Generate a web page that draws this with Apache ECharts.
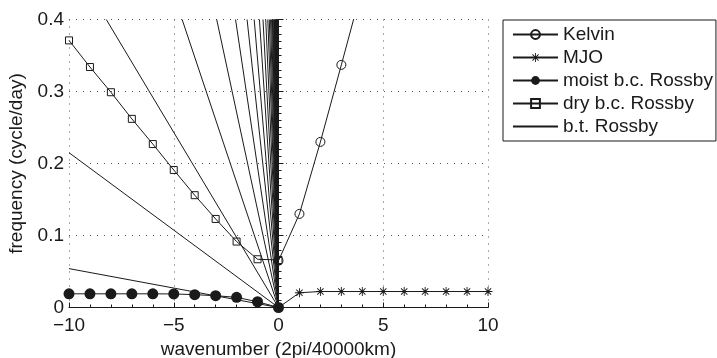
<!DOCTYPE html>
<html>
<head>
<meta charset="utf-8">
<script src="https://cdn.jsdelivr.net/npm/echarts@6/dist/echarts.min.js"></script>
<style>
html,body{margin:0;padding:0;background:#fff;}
#chart{width:717px;height:358px;}
</style>
</head>
<body>
<div id="chart"></div>
<script>
// ---- data ----
var kelvinK = [0, 1, 2, 3, 4];
var kelvinF = [0.065, 0.13, 0.23, 0.337, 0.445];

var mjoK = [0, 1, 2, 3, 4, 5, 6, 7, 8, 9, 10];
var mjoF = [0, 0.0205, 0.0222, 0.0222, 0.0222, 0.0222, 0.0222, 0.0222, 0.0222, 0.0222, 0.0222];

var moistK = [-10, -9, -8, -7, -6, -5, -4, -3, -2, -1, 0];
var moistF = [0.019, 0.019, 0.019, 0.019, 0.019, 0.0188, 0.0178, 0.0164, 0.0141, 0.008, 0];

var dryK = [-10, -9, -8, -7, -6, -5, -4, -3, -2, -1, 0];
var dryF = [0.371, 0.334, 0.299, 0.262, 0.227, 0.191, 0.156, 0.123, 0.0916, 0.067, 0.066];

// b.t. Rossby: straight lines from the origin; each entry is the point where the line leaves the plot
var btOrigin = [0, 0];
var btEndK = [-10, -10, -8.22, -4.6, -2.95, -2.05, -1.5, -1.16, -0.91, -0.74, -0.61, -0.51, -0.44, -0.38, -0.33,
              -0.29, -0.26, -0.23, -0.2, -0.185, -0.165, -0.15, -0.135, -0.12, -0.11, -0.1, -0.09, -0.08,
              -0.07, -0.06, -0.05, -0.04, -0.03, -0.02];
var btEndF = [0.054, 0.215, 0.4, 0.4, 0.4, 0.4, 0.4, 0.4, 0.4, 0.4, 0.4, 0.4, 0.4, 0.4, 0.4,
              0.4, 0.4, 0.4, 0.4, 0.4, 0.4, 0.4, 0.4, 0.4, 0.4, 0.4, 0.4, 0.4,
              0.4, 0.4, 0.4, 0.4, 0.4, 0.4];

var xTicks = [-10, -5, 0, 5, 10];
var yTicks = [0, 0.1, 0.2, 0.3, 0.4];
var legendNames = ['Kelvin', 'MJO', 'moist b.c. Rossby', 'dry b.c. Rossby', 'b.t. Rossby'];

// ---- chart ----
function zip(a, b) { return a.map(function (v, i) { return [v, b[i]]; }); }
var ink = '#1a1a1a';
var font = 'Liberation Sans, Arial, Helvetica, sans-serif';
var asterisk = 'path://M-0.5,-5L0.5,-5L0.5,5L-0.5,5Z' +
  'M-5,-0.5L5,-0.5L5,0.5L-5,0.5Z' +
  'M-3.15,-3.85L3.85,3.15L3.15,3.85L-3.85,-3.15Z' +
  'M-3.85,3.15L3.15,-3.85L3.85,-3.15L-3.15,3.85Z';

var series = [
  { name: legendNames[0], type: 'line', data: zip(kelvinK, kelvinF), symbol: 'circle', symbolSize: 9,
    itemStyle: { color: 'rgba(0,0,0,0)', borderColor: ink, borderWidth: 1 }, lineStyle: { color: ink, width: 1 } },
  { name: legendNames[1], type: 'line', data: zip(mjoK, mjoF), symbol: asterisk, symbolSize: 9,
    itemStyle: { color: ink }, lineStyle: { color: ink, width: 1 } },
  { name: legendNames[2], type: 'line', data: zip(moistK, moistF), symbol: 'circle', symbolSize: 11,
    itemStyle: { color: ink }, lineStyle: { color: ink, width: 1 } },
  { name: legendNames[3], type: 'line', data: zip(dryK, dryF), symbol: 'rect', symbolSize: 7,
    itemStyle: { color: 'rgba(0,0,0,0)', borderColor: ink, borderWidth: 1 }, lineStyle: { color: ink, width: 1 } }
];
btEndK.forEach(function (k, i) {
  series.push({ name: legendNames[4], type: 'line', data: [btOrigin, [k, btEndF[i]]],
    symbol: 'circle', symbolSize: 0, showSymbol: false,
    itemStyle: { color: 'rgba(0,0,0,0)', borderWidth: 0 }, lineStyle: { color: ink, width: 1 } });
});
series.forEach(function (s) { s.animation = false; s.silent = true; });

var chart = echarts.init(document.getElementById('chart'), null, { renderer: 'canvas' });
chart.setOption({
  backgroundColor: '#fff',
  animation: false,
  textStyle: { fontFamily: font },
  grid: { left: 69, right: 229, top: 19.5, bottom: 50.5, containLabel: false, outerBoundsMode: 'none' },
  legend: {
    data: legendNames, orient: 'vertical', left: 503, top: 20,
    padding: [5, 3, 5, 9], itemWidth: 45, itemHeight: 11, itemGap: 4,
    borderColor: ink, borderWidth: 1,
    textStyle: { fontSize: 19, color: ink, fontFamily: font },
    selectedMode: false
  },
  xAxis: {
    type: 'value', min: xTicks[0], max: xTicks[xTicks.length - 1], interval: xTicks[1] - xTicks[0],
    name: 'wavenumber (2pi/40000km)', nameLocation: 'middle', nameGap: 29,
    nameTextStyle: { fontSize: 19, color: ink, fontFamily: font },
    axisLine: { onZero: false, lineStyle: { color: ink, width: 1 } },
    axisTick: { inside: true, length: 5, lineStyle: { color: ink } },
    minorTick: { show: true, splitNumber: 5, length: 3, lineStyle: { color: ink } },
    axisLabel: { fontSize: 19, color: ink, margin: 9, fontFamily: font,
      formatter: function (v) { return String(v).replace('-', '\u2212'); } },
    splitLine: { show: true, lineStyle: { color: '#555', type: [1, 6], width: 1 } }
  },
  yAxis: {
    type: 'value', min: yTicks[0], max: yTicks[yTicks.length - 1], interval: yTicks[1] - yTicks[0],
    name: 'frequency (cycle/day)', nameLocation: 'middle', nameGap: 31,
    nameTextStyle: { fontSize: 19, color: ink, fontFamily: font },
    axisLine: { show: true, lineStyle: { color: ink, width: 1 } },
    axisTick: { show: true, inside: true, length: 5, lineStyle: { color: ink } },
    minorTick: { show: true, splitNumber: 10, length: 3, lineStyle: { color: ink } },
    axisLabel: { fontSize: 19, color: ink, margin: 5, fontFamily: font },
    splitLine: { show: true, lineStyle: { color: '#555', type: [1, 6], width: 1 } }
  },
  series: series
});
</script>
</body>
</html>
